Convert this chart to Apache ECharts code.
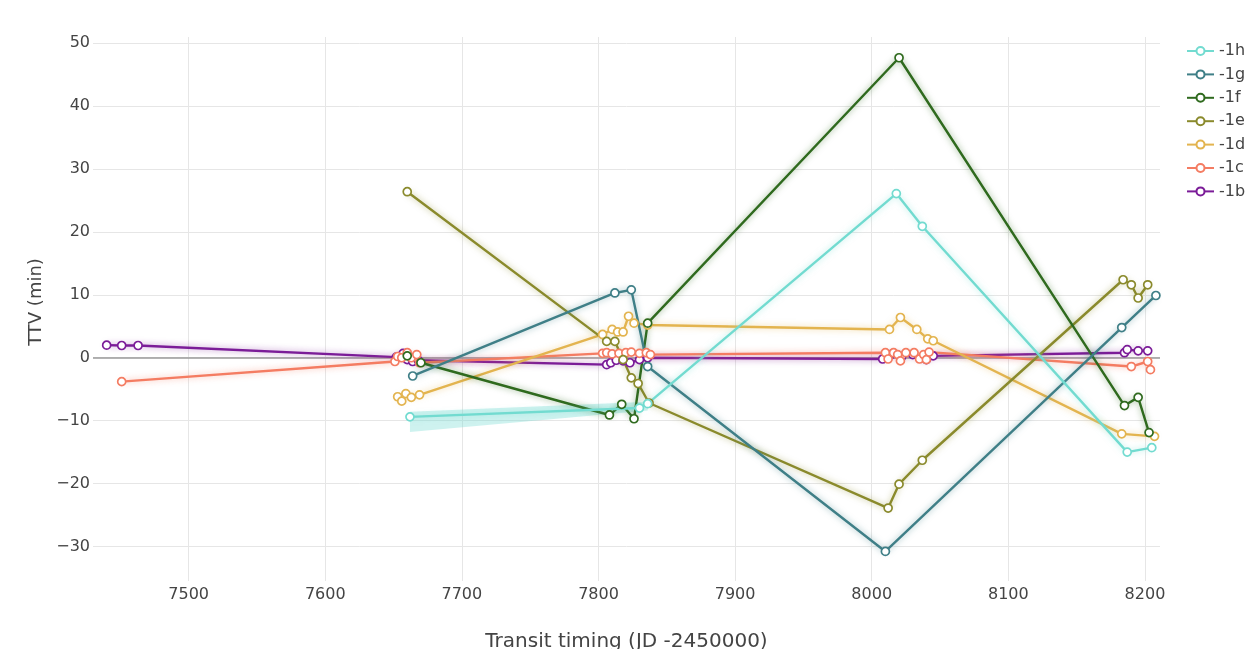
<!DOCTYPE html>
<html>
<head>
<meta charset="utf-8">
<script src="https://cdn.jsdelivr.net/npm/echarts@6/dist/echarts.min.js"></script>
<style>
  html, body { margin: 0; padding: 0; background: #fff; }
  #main { width: 1248px; height: 649px; }
</style>
</head>
<body>
<div id="main"></div>
<script>
// planet names, legend order top to bottom
var names = ['-1h', '-1g', '-1f', '-1e', '-1d', '-1c', '-1b'];

// transit times (JD -2450000) and TTV (min) per planet
var tB = [7440, 7451, 7463, 7652, 7657, 7660, 7664, 7668, 7806, 7809, 7813, 7818, 7823, 7830, 7836, 8008, 8015, 8022, 8030, 8040, 8045, 8185, 8187, 8195, 8202];
var vB = [2.0, 1.95, 1.95, 0.1, 0.7, -0.3, -0.6, -0.4, -1.1, -0.8, -0.4, -0.5, -0.8, -0.3, 0.0, -0.2, 0.6, 0.2, 0.5, -0.3, 0.3, 0.8, 1.3, 1.1, 1.1];

var tC = [7451, 7651, 7653, 7656, 7660, 7663, 7667, 7669, 7803, 7806, 7810, 7815, 7820, 7824, 7830, 7835, 7838, 8010, 8012, 8016, 8019, 8021, 8025, 8031, 8035, 8038, 8040, 8042, 8190, 8202, 8204];
var vC = [-3.8, -0.6, 0.2, 0.0, 0.8, 0.0, 0.5, -0.8, 0.7, 0.8, 0.6, 0.7, 0.8, 0.9, 0.7, 0.8, 0.5, 0.8, -0.2, 0.8, 0.5, -0.5, 0.8, 0.8, -0.2, 0.5, -0.3, 0.9, -1.4, -0.6, -1.9];

var tD = [7653, 7656, 7659, 7663, 7669, 7803, 7810, 7814, 7818, 7822, 7826, 7836, 8013, 8021, 8033, 8041, 8045, 8183, 8207];
var vD = [-6.2, -6.9, -5.7, -6.3, -5.9, 3.7, 4.5, 4.1, 4.1, 6.6, 5.5, 5.2, 4.5, 6.4, 4.5, 3.0, 2.7, -12.1, -12.5];

var tE = [7660, 7806, 7812, 7818, 7824, 7829, 7837, 8012, 8020, 8037, 8184, 8190, 8195, 8202];
var vE = [26.4, 2.6, 2.6, -0.3, -3.2, -4.1, -7.2, -23.9, -20.1, -16.3, 12.4, 11.6, 9.5, 11.6];

var tF = [7660, 7670, 7808, 7817, 7826, 7836, 8020, 8185, 8195, 8203];
var vF = [0.3, -0.8, -9.1, -7.4, -9.7, 5.5, 47.7, -7.6, -6.3, -11.9];

var tG = [7664, 7812, 7824, 7836, 8010, 8183, 8208];
var vG = [-2.9, 10.3, 10.8, -1.4, -30.8, 4.8, 9.9];

var tH = [7662, 7830, 7836, 8018, 8037, 8187, 8205];
var vH = [-9.4, -8.0, -7.3, 26.1, 20.9, -15.0, -14.3];

// shaded uncertainty band of -1h
var bandT = [7662, 7836];
var bandLo = [-11.8, -8.4];
var bandHi = [-8.6, -7.0];

var colors = {
  '-1h': '#72dbd0', '-1g': '#3f7f87', '-1f': '#2f6a1e', '-1e': '#8a8a2c',
  '-1d': '#e3b44f', '-1c': '#f47c62', '-1b': '#7b1c98'
};

function zip(xs, ys) {
  return xs.map(function (x, i) { return [x, ys[i]]; });
}

function hexA(hex, a) {
  var n = parseInt(hex.slice(1), 16);
  return 'rgba(' + (n >> 16) + ',' + ((n >> 8) & 255) + ',' + (n & 255) + ',' + a + ')';
}

function planet(name, xs, ys) {
  var c = colors[name];
  return {
    name: name,
    type: 'line',
    data: zip(xs, ys),
    symbol: 'circle',
    symbolSize: 8,
    showAllSymbol: true,
    lineStyle: { color: c, width: 2.4, shadowColor: hexA(c, 0.55), shadowBlur: 6 },
    itemStyle: { color: '#fff', borderColor: c, borderWidth: 1.7 },
    emphasis: { disabled: true },
    z: 3
  };
}

var font = "'DejaVu Sans', verdana, arial, sans-serif";

var purple = planet('-1b', tB, vB);
purple.markLine = {
  silent: true, symbol: 'none', label: { show: false }, z: 1,
  lineStyle: { color: '#9a9a9a', type: 'solid', width: 1.6, shadowBlur: 0 },
  data: [{ yAxis: 0 }]
};

var chart = echarts.init(document.getElementById('main'));
chart.setOption({
  animation: false,
  textStyle: { fontFamily: font },
  grid: { left: 93, right: 88, top: 37, bottom: 68, outerBoundsMode: 'none' },
  legend: {
    data: names,
    orient: 'vertical',
    left: 1181,
    top: 38,
    itemWidth: 27,
    itemHeight: 10,
    itemGap: 7.4,
    textStyle: { fontSize: 16, color: '#444', fontFamily: font }
  },
  xAxis: {
    type: 'value',
    min: 7430,
    max: 8211,
    splitNumber: 8,
    name: 'Transit timing (JD -2450000)',
    nameLocation: 'middle',
    nameGap: 51,
    nameTextStyle: { fontSize: 20, color: '#444' },
    axisLine: { show: false },
    axisTick: { show: false },
    axisLabel: {
      fontSize: 16, color: '#444', margin: 6, showMinLabel: false, showMaxLabel: false,
      formatter: function (v) { return String(v); }
    },
    splitLine: { show: true, showMinLine: false, showMaxLine: false, lineStyle: { color: '#e6e6e6', width: 1 } }
  },
  yAxis: {
    type: 'value',
    min: -35.5,
    max: 51,
    splitNumber: 9,
    name: 'TTV (min)',
    nameLocation: 'middle',
    nameGap: 38,
    nameTextStyle: { fontSize: 18, color: '#444', padding: [0, 0, 0, 14] },
    axisLine: { show: false },
    axisTick: { show: false },
    axisLabel: {
      fontSize: 16, color: '#444', margin: 3, showMinLabel: false, showMaxLabel: false,
      formatter: function (v) { return String(v).replace('-', '\u2212'); }
    },
    splitLine: { show: true, showMinLine: false, showMaxLine: false, lineStyle: { color: '#e6e6e6', width: 1 } }
  },
  series: [
    {
      type: 'custom',
      name: 'band',
      silent: true,
      z: 1,
      data: zip(bandT, bandLo),
      encode: { x: 0, y: 1 },
      renderItem: function (params, api) {
        if (params.dataIndex !== 0) return;
        var pts = [];
        for (var i = 0; i < bandT.length; i++) pts.push(api.coord([bandT[i], bandHi[i]]));
        for (var j = bandT.length - 1; j >= 0; j--) pts.push(api.coord([bandT[j], bandLo[j]]));
        return { type: 'polygon', shape: { points: pts }, style: { fill: hexA(colors['-1h'], 0.35) } };
      }
    },
    purple,
    planet('-1c', tC, vC),
    planet('-1d', tD, vD),
    planet('-1e', tE, vE),
    planet('-1f', tF, vF),
    planet('-1g', tG, vG),
    planet('-1h', tH, vH)
  ]
});
</script>
</body>
</html>
